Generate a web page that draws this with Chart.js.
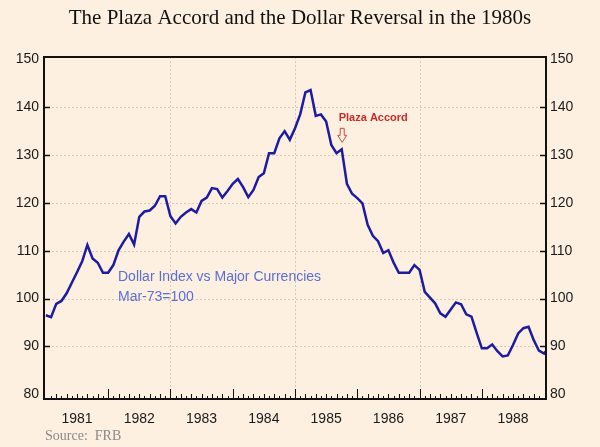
<!DOCTYPE html>
<html>
<head>
<meta charset="utf-8">
<script src="https://cdn.jsdelivr.net/npm/chart.js@4.4.1/dist/chart.umd.min.js"></script>
<style>
  html, body { margin: 0; padding: 0; background: #fdf0e0; }
</style>
</head>
<body>
<canvas id="chart" width="600" height="447"></canvas>
<script>
// monthly dollar index, starting Jan 1981
const startYear = 1981;
const dollarIndex = [
  96.5, 96.1, 98.9, 99.5, 101.1, 103.3, 105.5, 107.8, 111.2, 108.4, 107.5, 105.4,
  105.4, 107.0, 110.1, 111.9, 113.5, 111.3, 117.1, 118.2, 118.4, 119.4, 121.4, 121.4,
  117.2, 115.7, 117.1, 118.0, 118.7, 118.0, 120.4, 121.1, 123.1, 122.9, 121.1, 122.5,
  124.0, 125.0, 123.3, 121.2, 122.7, 125.4, 126.2, 130.4, 130.4, 133.5, 135.0, 133.2,
  135.6, 138.5, 143.1, 143.6, 138.2, 138.5, 137.0, 132.1, 130.4, 131.2, 124.0, 121.9,
  121.0, 119.9, 115.4, 113.1, 112.0, 109.5, 110.1, 107.5, 105.4, 105.4, 105.4, 107.0,
  106.0, 101.4, 100.2, 99.0, 96.9, 96.2, 97.7, 99.2, 98.8, 96.7, 96.2, 92.8,
  89.6, 89.6, 90.4, 89.0, 87.9, 88.1, 90.3, 92.7, 93.8, 94.1, 91.3, 89.1,
  88.5, 89.9
];
const yearLabels = ['1981', '1982', '1983', '1984', '1985', '1986', '1987', '1988'];
const yTicks = [80, 90, 100, 110, 120, 130, 140, 150];
const gridYears = [1983, 1985, 1987];
const plazaIdx = 57;   // point the arrow sits on

const bg = '#fdf0e0';
const gridColor = '#d9c9b0';
const points = dollarIndex.map((v, i) => ({ x: startYear + i / 12, y: v }));

const decor = {
  id: 'decor',
  beforeDraw(chart) {
    const c = chart.ctx;
    c.save();
    c.fillStyle = bg;
    c.fillRect(0, 0, chart.width, chart.height);
    c.restore();
  },
  beforeDatasetsDraw(chart) {
    const c = chart.ctx, a = chart.chartArea;
    const xs = chart.scales.x, ys = chart.scales.y;
    c.save();
    c.strokeStyle = gridColor;
    c.lineWidth = 1;
    c.setLineDash([2, 2]);
    yTicks.slice(1, -1).forEach(v => {
      const y = Math.round(ys.getPixelForValue(v)) + 0.5;
      c.beginPath(); c.moveTo(a.left, y); c.lineTo(a.right, y); c.stroke();
    });
    gridYears.forEach(t => {
      const x = Math.round(xs.getPixelForValue(t)) + 0.5;
      c.beginPath(); c.moveTo(x, a.top); c.lineTo(x, a.bottom); c.stroke();
    });
    c.restore();
  },
  afterDatasetsDraw(chart) {
    const c = chart.ctx, a = chart.chartArea;
    const xs = chart.scales.x, ys = chart.scales.y;
    c.save();
    // frame
    c.strokeStyle = '#111';
    c.lineWidth = 2;
    c.strokeRect(a.left, a.top, a.right - a.left, a.bottom - a.top);

    // y tick marks, pointing inward on both sides
    c.lineWidth = 1.5;
    yTicks.slice(1, -1).forEach(v => {
      const y = Math.round(ys.getPixelForValue(v)) + 0.5;
      c.beginPath(); c.moveTo(a.left, y); c.lineTo(a.left + 6, y); c.stroke();
      c.beginPath(); c.moveTo(a.right - 6, y); c.lineTo(a.right, y); c.stroke();
    });

    // monthly x tick marks
    c.lineWidth = 1;
    for (let m = 1; m < 8 * 12; m++) {
      const x = Math.round(xs.getPixelForValue(startYear + m / 12)) + 0.5;
      const h = m % 12 === 0 ? 10 : (m % 2 === 0 ? 5 : 3);
      c.beginPath(); c.moveTo(x, a.bottom); c.lineTo(x, a.bottom - h); c.stroke();
    }

    // Plaza Accord note + hollow arrow
    const px = xs.getPixelForValue(points[plazaIdx].x);
    const py = ys.getPixelForValue(points[plazaIdx].y);
    c.fillStyle = '#cc2b2b';
    c.font = 'bold 11px "Liberation Sans", Arial, sans-serif';
    c.textBaseline = 'middle';
    c.textAlign = 'left';
    c.fillText('Plaza Accord', px - 3, py - 31);
    const ax = px + 0.5, bot = py - 7;
    c.strokeStyle = '#d04a3a';
    c.lineWidth = 1;
    c.beginPath();
    c.moveTo(ax - 2, bot - 14);
    c.lineTo(ax + 2, bot - 14);
    c.lineTo(ax + 2, bot - 7);
    c.lineTo(ax + 4.5, bot - 7);
    c.lineTo(ax, bot);
    c.lineTo(ax - 4.5, bot - 7);
    c.lineTo(ax - 2, bot - 7);
    c.closePath();
    c.stroke();

    // series note
    c.fillStyle = '#5a6fd4';
    c.font = '14px "Liberation Sans", Arial, sans-serif';
    c.fillText('Dollar Index vs Major Currencies', 118, 277);
    c.fillText('Mar-73=100', 118, 297);

    // source
    c.fillStyle = '#8a8a8a';
    c.font = '14px "Liberation Serif", "Times New Roman", serif';
    c.fillText('Source:  FRB', 45, 436);
    c.restore();
  }
};

const yAxis = (pos, w) => ({
  position: pos,
  min: 79.0,
  max: 150.5,
  afterBuildTicks: s => { s.ticks = yTicks.map(v => ({ value: v })); },
  afterFit: s => { s.width = w; },
  grid: { display: false, drawTicks: false, tickLength: 0 },
  border: { display: false },
  ticks: {
    padding: pos === 'left' ? 5 : 4,
    color: '#1a1a1a',
    font: { family: '"Liberation Sans", Arial, sans-serif', size: 14 }
  }
});

new Chart(document.getElementById('chart'), {
  type: 'line',
  data: {
    datasets: [{
      data: points,
      borderColor: '#1c1ca3',
      borderWidth: 2.5,
      pointRadius: 0,
      tension: 0
    }]
  },
  options: {
    responsive: false,
    animation: false,
    layout: { padding: 0 },
    plugins: {
      legend: { display: false },
      tooltip: { enabled: false },
      title: {
        display: true,
        text: 'The Plaza Accord and the Dollar Reversal in the 1980s',
        color: '#111',
        font: { family: '"Liberation Serif", "Times New Roman", serif', size: 21, weight: 'normal' },
        padding: { top: 5.5, bottom: 26.3 }
      }
    },
    scales: {
      x: {
        type: 'linear',
        min: 1980.97,
        max: 1989.03,
        afterBuildTicks: s => { s.ticks = yearLabels.map(y => ({ value: +y + 0.5 })); },
        afterFit: s => { s.height = 48; },
        grid: { display: false, drawTicks: false, tickLength: 0 },
        border: { display: false },
        ticks: {
          padding: 12,
          maxRotation: 0,
          autoSkip: false,
          color: '#1a1a1a',
          font: { family: '"Liberation Sans", Arial, sans-serif', size: 14 },
          callback: v => yearLabels[Math.floor(v) - startYear]
        }
      },
      y: yAxis('left', 44),
      y2: yAxis('right', 54)
    }
  },
  plugins: [decor]
});
</script>
</body>
</html>
